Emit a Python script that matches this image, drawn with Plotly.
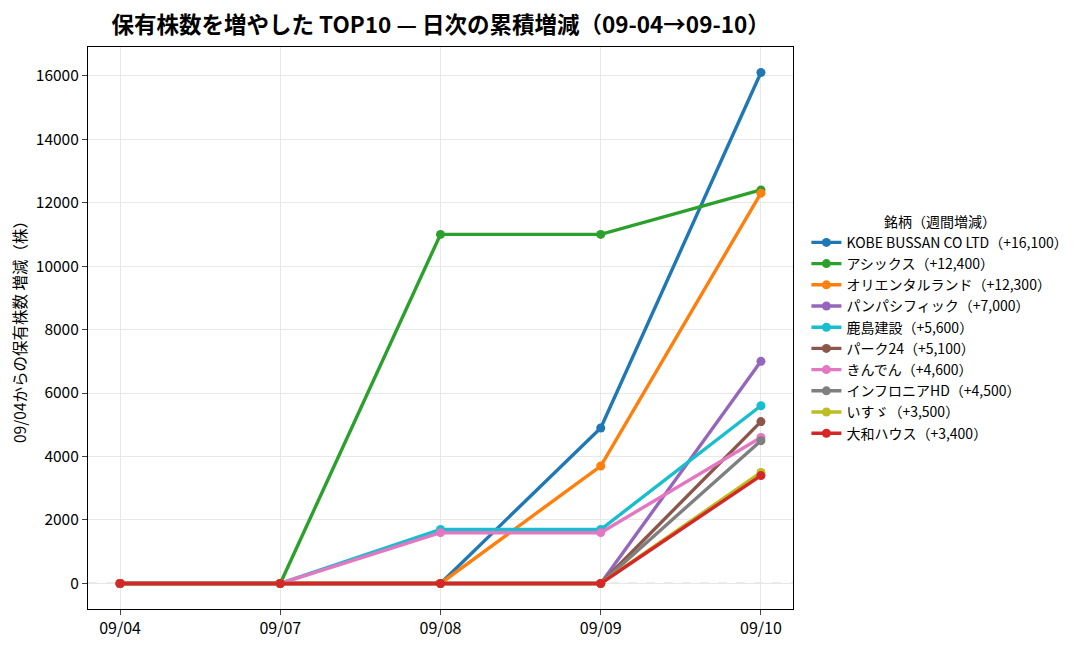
import plotly.graph_objects as go

dates = ["09/04", "09/07", "09/08", "09/09", "09/10"]
names = ["KOBE BUSSAN CO LTD（+16,100）", "アシックス（+12,400）", "オリエンタルランド（+12,300）",
         "パンパシフィック（+7,000）", "鹿島建設（+5,600）", "パーク24（+5,100）",
         "きんでん（+4,600）", "インフロニアHD（+4,500）", "いすゞ（+3,500）", "大和ハウス（+3,400）"]
kobe = [0, 0, 0, 4900, 16100]
asics = [0, 0, 11000, 11000, 12400]
oriental = [0, 0, 0, 3700, 12300]
panpac = [0, 0, 0, 0, 7000]
kajima = [0, 0, 1700, 1700, 5600]
park24 = [0, 0, 0, 0, 5100]
kinden = [0, 0, 1600, 1600, 4600]
infroneer = [0, 0, 0, 0, 4500]
isuzu = [0, 0, 0, 0, 3500]
daiwa = [0, 0, 0, 0, 3400]
series = [kobe, asics, oriental, panpac, kajima, park24, kinden, infroneer, isuzu, daiwa]
colors = ["#1f77b4", "#2ca02c", "#ff7f0e", "#9467bd", "#17becf", "#8c564b",
          "#e377c2", "#7f7f7f", "#bcbd22", "#d62728"]

font = "Noto Sans CJK JP"
fig = go.Figure()
xi = list(range(len(dates)))
for n, s, c in zip(names, series, colors):
    fig.add_trace(go.Scatter(x=xi, y=s, name=n, mode="lines+markers",
                             line=dict(color=c, width=3.4),
                             marker=dict(color=c, size=9)))

fig.add_shape(type="line", xref="paper", x0=0, x1=1, yref="y", y0=0, y1=0,
              line=dict(color="#b0b0b0", width=1.3, dash="dash"), layer="between")

fig.update_layout(
    width=1087, height=649,
    margin=dict(l=80, r=302, t=39, b=48, autoexpand=False),
    paper_bgcolor="white", plot_bgcolor="white",
    font=dict(family=font, size=15, color="black"),
    title=dict(text="<b>保有株数を増やした TOP10 — 日次の累積増減（09-04→09-10）</b>",
               x=0.398, xanchor="center", y=0.973, yanchor="middle",
               font=dict(size=22.5, family=font)),
    xaxis=dict(tickmode="array", tickvals=xi, ticktext=dates, range=[-0.2, 4.2],
               showgrid=True, gridcolor="#e8e8e8", showline=True, linecolor="black",
               linewidth=1.2, mirror=True, ticks="outside", ticklen=5, zeroline=False,
               tickfont=dict(size=16), automargin=False),
    yaxis=dict(range=[-805, 16905], tickvals=list(range(0, 16001, 2000)), tickformat="d",
               showgrid=True, gridcolor="#e8e8e8", showline=True, linecolor="black",
               linewidth=1.2, mirror=True, ticks="outside", ticklen=5, zeroline=False,
               title=dict(text="09/04からの保有株数 増減（株）", font=dict(size=15.5), standoff=15),
               tickfont=dict(size=15.5), automargin=False),
    legend=dict(x=1.019, xanchor="left", y=0.498, yanchor="middle",
                title=dict(text="銘柄（週間増減）", side="top center", font=dict(size=14)),
                font=dict(size=14), tracegroupgap=0, itemwidth=30,
                bgcolor="rgba(0,0,0,0)"),
    showlegend=True,
)
fig.write_html("out.html")
